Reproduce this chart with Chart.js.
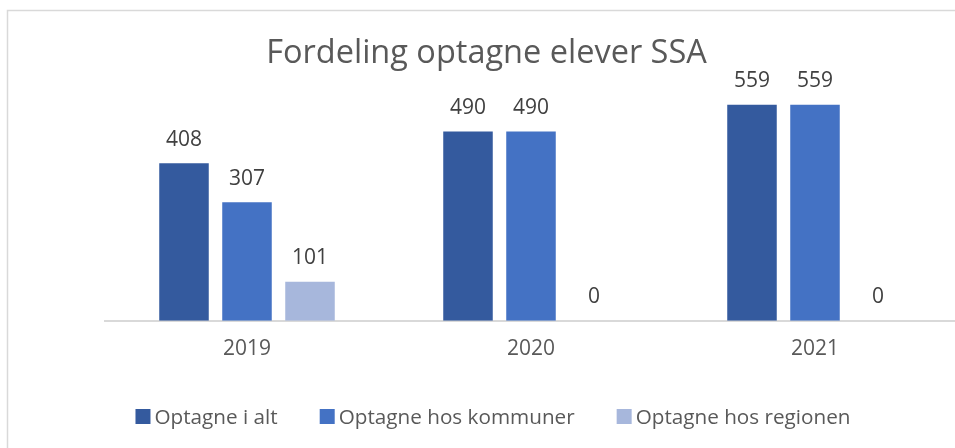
<!DOCTYPE html>
<html lang="da">
<head>
  <meta charset="UTF-8" />
  <title>Fordeling optagne elever SSA</title>
  <script src="https://cdn.jsdelivr.net/npm/chart.js"></script>
  <style>
    html, body {
      margin: 0;
      padding: 0;
      background: #fff;
      overflow: hidden;
    }
    #wrap {
      width: 962px;
      height: 448px;
    }
  </style>
</head>
<body>
<div id="wrap"><canvas id="chart" width="962" height="448"></canvas></div>

<script>
  const chartTitle = 'Fordeling optagne elever SSA';
  const years = ['2019', '2020', '2021'];
  const seriesNames = ['Optagne i alt', 'Optagne hos kommuner', 'Optagne hos regionen'];
  const optagneIAlt = [408, 490, 559];
  const optagneKommuner = [307, 490, 559];
  const optagneRegionen = [101, 0, 0];
  const seriesColors = ['#345a9e', '#4472c4', '#a7b7dc'];

  const FONT = "'Open Sans', sans-serif";

  // frame, title, value labels and legend drawn by hand
  const decor = {
    id: 'decor',
    beforeDraw(chart) {
      const c = chart.ctx;
      c.save();
      c.fillStyle = '#fff';
      c.fillRect(0, 0, chart.width, chart.height);
      c.strokeStyle = '#d9d9d9';
      c.lineWidth = 1.5;
      c.strokeRect(7.5, 10.5, chart.width + 20, chart.height + 20);
      c.restore();
    },
    afterDatasetsDraw(chart) {
      const c = chart.ctx;
      c.save();
      c.font = '21px ' + FONT;
      c.fillStyle = '#404040';
      c.textAlign = 'center';
      c.textBaseline = 'alphabetic';
      chart.data.datasets.forEach((ds, i) => {
        chart.getDatasetMeta(i).data.forEach((bar, j) => {
          c.fillText(String(ds.data[j]), bar.x, bar.y - 17.5);
        });
      });
      c.restore();
    },
    afterDraw(chart) {
      const c = chart.ctx;
      c.save();
      c.fillStyle = '#595959';
      c.font = '32.5px ' + FONT;
      c.textAlign = 'center';
      c.textBaseline = 'alphabetic';
      c.fillText(chartTitle, 486.5, 62.5);

      // legend
      c.font = '20.7px ' + FONT;
      c.textAlign = 'left';
      const box = 15, gapText = 4, gapItem = 42;
      const widths = chart.data.datasets.map(ds => box + gapText + c.measureText(ds.label).width);
      const total = widths.reduce((a, b) => a + b, 0) + gapItem * (widths.length - 1);
      let x = 493 - total / 2;
      chart.data.datasets.forEach((ds, i) => {
        c.fillStyle = ds.backgroundColor;
        c.fillRect(x, 409, box, box);
        c.fillStyle = '#595959';
        c.fillText(ds.label, x + box + gapText, 423.5);
        x += widths[i] + gapItem;
      });
      c.restore();
    }
  };

  const ctx = document.getElementById('chart').getContext('2d');
  new Chart(ctx, {
    type: 'bar',
    data: {
      labels: years,
      datasets: [
        { label: seriesNames[0], data: optagneIAlt, backgroundColor: seriesColors[0] },
        { label: seriesNames[1], data: optagneKommuner, backgroundColor: seriesColors[1] },
        { label: seriesNames[2], data: optagneRegionen, backgroundColor: seriesColors[2] }
      ]
    },
    options: {
      responsive: false,
      animation: false,
      layout: {
        padding: { left: 105, right: 5, top: 89, bottom: 70 }
      },
      datasets: {
        bar: {
          categoryPercentage: 0.6655,
          barPercentage: 0.786,
          borderWidth: 0
        }
      },
      scales: {
        x: {
          grid: { display: false, drawTicks: false },
          border: { display: true, color: '#d9d9d9', width: 2 },
          ticks: {
            color: '#595959',
            font: { family: FONT, size: 21 },
            padding: 16
          }
        },
        y: {
          display: false,
          min: 0,
          max: 600
        }
      },
      plugins: {
        legend: { display: false },
        title: { display: false },
        tooltip: { enabled: false }
      }
    },
    plugins: [decor]
  });
</script>
</body>
</html>
